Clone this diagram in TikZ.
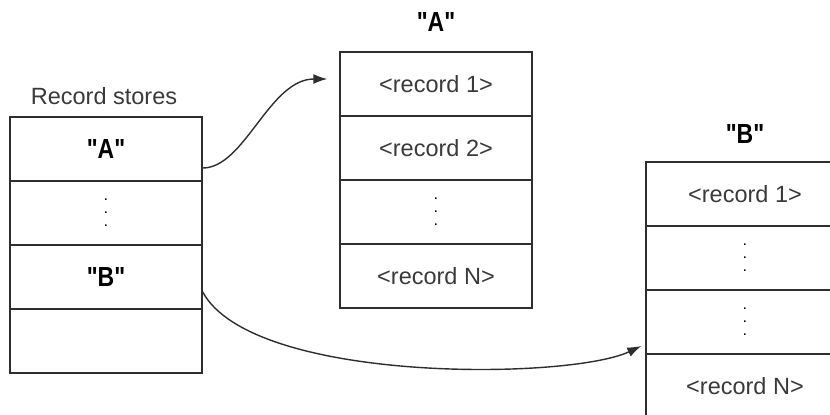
\documentclass[tikz,border=0pt]{standalone}
\usepackage{fontspec}
\setmainfont{Liberation Sans}
\newfontfamily\qfont{Liberation Sans}[Ligatures=TeXOff]
\usetikzlibrary{arrows.meta,calc}
\definecolor{ln}{HTML}{2E2E2E}
\definecolor{tx}{HTML}{3A3A3A}
\newcommand{\mydots}{\vbox{\fontsize{11}{13}\selectfont\bfseries\color{black}\baselineskip=13pt\lineskiplimit=-2pt\hbox{.}\hbox{.}\hbox{.}}}
\newcommand{\qlabel}[1]{\scalebox{1}[1.2]{\qfont\bfseries"#1"}}
\begin{document}
\begin{tikzpicture}[x={(1pt,0)},y={(0,-1pt)},
  cell/.style={draw=ln,line width=1.4pt,minimum width=192pt,minimum height=64pt,inner sep=0pt,
    font=\fontsize{23.5}{27}\selectfont,text=tx},
  cellw/.style={cell,minimum width=198pt},
  qcell/.style={cell,text=black,font=\fontsize{23}{27}\selectfont},
  qlab/.style={font=\fontsize{23}{27}\selectfont,text=black},
  rlab/.style={font=\fontsize{23.5}{27}\selectfont,text=tx},
  conn/.style={draw=ln,line width=1.4pt,-{Latex[length=14pt,width=10pt]}}]
\clip (0,0) rectangle (830,415);
% left stack
\node[rlab] (rs) at (104,96) {Record stores};
\node[qcell] (l1) at (106,149) {\qlabel{A}};
\node[cell] (l2) at (106,213) {\mydots};
\node[qcell] (l3) at (106,277) {\qlabel{B}};
\node[cell] (l4) at (106,341) {};
% middle stack
\node[qlab] (la) at (436,22) {\qlabel{A}};
\node[cell] (m1) at (436,84) {<record 1>};
\node[cell] (m2) at (436,148) {<record 2>};
\node[cell] (m3) at (436,212) {\mydots};
\node[cell] (m4) at (436,276) {<record N>};
% right stack
\node[qlab] (lb) at (745,134) {\qlabel{B}};
\node[cellw] (r1) at (745,194) {<record 1>};
\node[cellw] (r2) at (745,258) {\mydots};
\node[cellw] (r3) at (745,322) {\mydots};
\node[cellw] (r4) at (745,386) {<record N>};
% connectors
\coordinate (sa) at ($(l1.east)+(0,19)$);
\coordinate (ea) at ($(m1.west)+(-12,-5)$);
\draw[conn] (sa) .. controls ($(sa)+(42,0)$) and ($(ea)+(-58,0)$) .. (ea);
\coordinate (sb) at ($(l3.east)+(0,15)$);
\coordinate (eb) at ($(r3.west)+(-4,24)$);
\draw[conn] (sb) .. controls ($(sb)+(50,92)$) and ($(eb)+(-72,34)$) .. (eb);
\end{tikzpicture}
\end{document}
